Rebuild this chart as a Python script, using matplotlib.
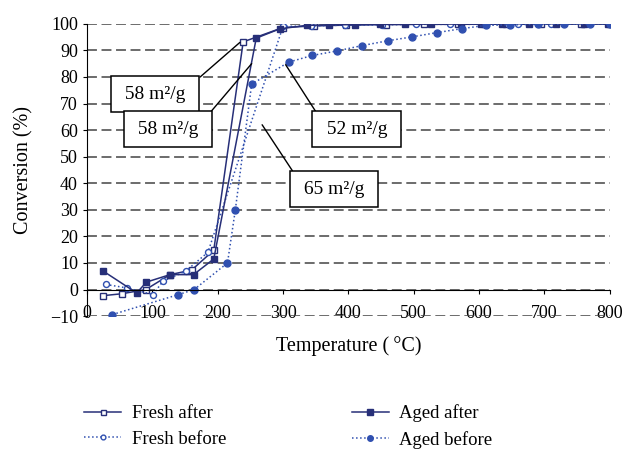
import matplotlib
matplotlib.use("Agg")
import matplotlib.pyplot as plt

plt.rcParams['font.family'] = ['Liberation Serif', 'DejaVu Serif']

# Conversion (%) vs temperature (°C)
fresh_after_t = [25, 53, 90, 127, 160, 194, 239, 300, 347, 396, 457, 515, 568, 642, 695, 756, 800]
fresh_after_y = [-2.3, -1.6, 0, 5.6, 7.3, 14.8, 93.2, 98.6, 99.2, 99.5, 99.7, 99.8, 99.8, 99.9, 99.9, 100, 100]

aged_after_t = [25, 76, 91, 127, 163, 194, 259, 295, 336, 370, 410, 448, 486, 527, 573, 603, 635, 677, 718, 761, 797]
aged_after_y = [6.9, -1.3, 2.8, 5.6, 5.6, 11.5, 94.6, 98.1, 99.4, 99.6, 99.7, 99.8, 99.8, 99.9, 99.9, 99.9, 100, 100, 100, 100, 100]

fresh_before_t = [29, 61, 101, 116, 151, 185, 300, 343, 395, 451, 503, 556, 605, 660, 710, 760, 800]
fresh_before_y = [1.9, 0.6, -1.9, 3.1, 6.9, 14, 99, 99.2, 99.5, 99.6, 99.8, 99.8, 99.8, 99.9, 99.9, 100, 100]

aged_before_t = [39, 140, 164, 215, 227, 252, 309, 345, 383, 421, 460, 498, 536, 574, 610, 648, 690, 730, 770, 800]
aged_before_y = [-9.4, -1.9, 0, 10, 30, 77.3, 85.6, 88.1, 89.8, 91.8, 93.6, 95.1, 96.7, 98.2, 99.4, 99.6, 99.8, 99.9, 100, 100]

# surface area labels: text, text position, point the leader line goes to, corner of box
labels = ["58 m²/g", "58 m²/g", "52 m²/g", "65 m²/g"]
label_xy = [(104, 73.5), (124, 60.3), (413, 60.3), (378, 37.8)]
label_target = [(234, 93), (252, 85), (304, 84.6), (268, 62)]
label_corner = [(1, 1), (1, 1), (0, 1), (0, 1)]

navy = '#272f78'
blue = '#3050b0'

fig = plt.figure(figsize=(6.26, 4.49), dpi=100)
ax = fig.add_axes([0.139, 0.296, 0.835, 0.651])

ax.plot(fresh_after_t, fresh_after_y, color=navy, lw=1.1, marker='s', ms=4.5,
        mfc='white', mec=navy, mew=1, label='Fresh after')
ax.plot(fresh_before_t, fresh_before_y, color=blue, lw=1.1, ls=':', marker='o', ms=4.3,
        mfc='white', mec=blue, mew=1, label='Fresh before')
ax.plot(aged_after_t, aged_after_y, color=navy, lw=1.1, marker='s', ms=5,
        mfc=navy, mec=navy, label='Aged after')
ax.plot(aged_before_t, aged_before_y, color=blue, lw=1.1, ls=':', marker='o', ms=5,
        mfc=blue, mec=blue, label='Aged before')

for txt, xy, tgt, corner in zip(labels, label_xy, label_target, label_corner):
    ax.annotate(' ' + txt + ' ', xy=tgt, xytext=xy, ha='center', va='center', fontsize=14,
                bbox=dict(boxstyle='square,pad=0.48', fc='white', ec='black', lw=1.1),
                arrowprops=dict(arrowstyle='-', color='black', lw=1,
                                shrinkA=0, shrinkB=0, relpos=corner))

ax.set_xlim(0, 800)
ax.set_ylim(-10, 100)
ax.set_xticks(range(0, 801, 100))
ax.set_yticks(range(-10, 101, 10))
ax.set_yticklabels(['\u221210'] + [str(v) for v in range(0, 101, 10)])
ax.yaxis.grid(True, ls=(0, (6.5, 3)), color='#444444', lw=1.1)
ax.set_axisbelow(True)
ax.spines['top'].set_visible(False)
ax.spines['right'].set_visible(False)
ax.spines['bottom'].set_position(('data', 0))
ax.tick_params(axis='both', labelsize=13, length=3, color='black')
ax.tick_params(axis='x', pad=8)
ax.set_xlabel('Temperature (\u2009°C)', fontsize=14.5, labelpad=10)
ax.set_ylabel('Conversion (%)', fontsize=14.5, labelpad=12)

fig.legend(loc='lower left', bbox_to_anchor=(0.107, -0.037), ncol=2, frameon=False,
           fontsize=13.5, columnspacing=6.7, handlelength=2.0, handletextpad=0.55,
           labelspacing=0.45, markerscale=0.8)

fig.savefig('out.png', dpi=100)
